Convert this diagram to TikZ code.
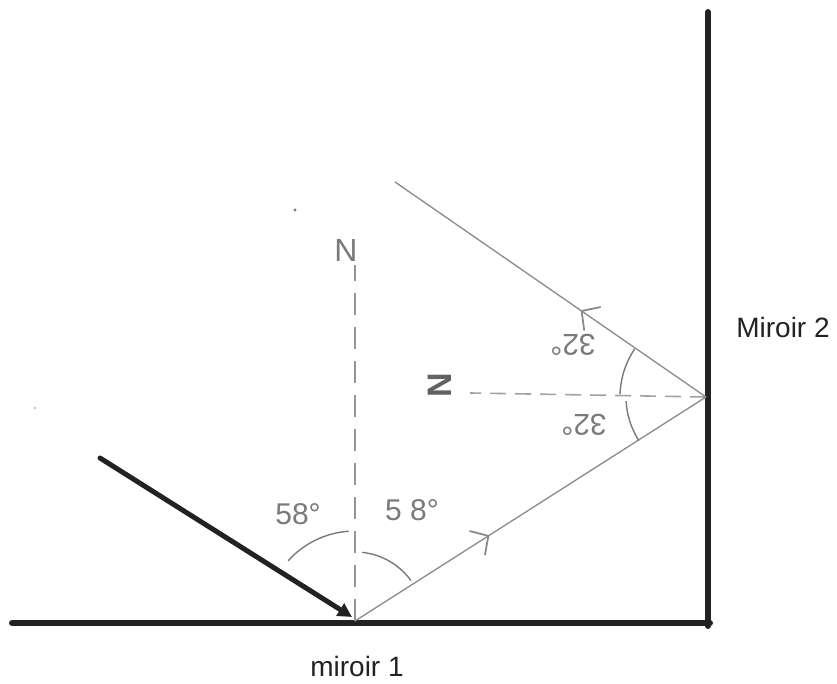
\documentclass[tikz,border=0pt]{standalone}
\usepackage{fontspec}
\setmainfont{Liberation Sans}
\usetikzlibrary{arrows.meta,calc}
\definecolor{ink}{HTML}{222222}
\definecolor{ray}{HTML}{8A8A8A}
\definecolor{hand}{HTML}{7A7A7A}
\tikzset{
  mirror/.style={line width=6pt, ink, line cap=round},
  incident/.style={line width=5pt, ink, line cap=round, -{Triangle[length=14pt,width=14pt]}},
  rayline/.style={line width=1.3pt, ray},
  normal/.style={line width=1.6pt, hand!80, dash pattern=on 22pt off 12pt},
  hnormal/.style={line width=1.6pt, hand!70, dash pattern=on 16pt off 9pt},
  anglearc/.style={line width=1.4pt, hand},
  handlabel/.style={text=hand, font=\fontsize{30}{30}\selectfont, inner sep=0pt},
  mirlabel/.style={text=ink, font=\fontsize{28}{28}\selectfont, inner sep=0pt},
  chevron/.style={ray, line width=1.8pt, line cap=round, line join=round}
}
\begin{document}
\begin{tikzpicture}[x=1pt,y=1pt]
\useasboundingbox (0,0) rectangle (837,683);
% key points
\coordinate (P) at (355,62);
\coordinate (Q) at (706,286);
\coordinate (M1a) at (12,60);
\coordinate (M1b) at (710,60);
\coordinate (M2a) at (708,671);
\coordinate (M2b) at (708,57);
\coordinate (S) at (100,225);
\coordinate (Pin) at (352,66);
\coordinate (R2) at (395,501);
\coordinate (Ntop) at (355,418);
\coordinate (Hleft) at (470,290);
% mirrors
\draw[mirror] (M1a) -- (M1b);
\draw[mirror] (M2a) -- (M2b);
% normals
\draw[normal] (P) -- (Ntop);
\draw[hnormal] (Q) -- (Hleft);
% rays
\draw[rayline] (P) -- (Q);
\draw[rayline] (Q) -- (R2);
\draw[incident] (S) -- (Pin);
% chevrons on the rays
\coordinate (c1) at ($(P)!0.38!(Q)$);
\coordinate (c2) at ($(Q)!0.40!(R2)$);
\begin{scope}[shift={(c1)}, rotate=32.6]
  \draw[chevron] (-13,14) -- (0,0) -- (-13,-14);
\end{scope}
\begin{scope}[shift={(c2)}, rotate=144.7]
  \draw[chevron] (-13,14) -- (0,0) -- (-13,-14);
\end{scope}
% angle arcs
\draw[anglearc] (P) ++(94:90) arc[start angle=94, end angle=138, radius=90];
\draw[anglearc] (P) ++(84:69) arc[start angle=84, end angle=36, radius=69];
\draw[anglearc] (Q) ++(146:86) arc[start angle=146, end angle=178, radius=86];
\draw[anglearc] (Q) ++(183:80) arc[start angle=183, end angle=213, radius=80];
% labels
\node[handlabel, font=\fontsize{32}{32}\selectfont] (Nv) at (346,433) {N};
\node[handlabel, rotate=90, text=hand!80!black, font=\fontsize{34}{34}\bfseries] (Nh) at (440,298) {N};
\node[handlabel] (a1) at (298,169) {58°};
\node[handlabel] (a2) at (412,173) {5 8°};
\node[handlabel, rotate=180] (a3) at (573,338) {32°};
\node[handlabel, rotate=180] (a4) at (584,258) {32°};
\node[mirlabel] (m2) at (783,356) {Miroir 2};
\node[mirlabel] (m1) at (357,17) {miroir 1};
% specks
\fill[hand] (295,473) circle (1.6pt);
\fill[hand!60] (35,275) circle (1.2pt);
\end{tikzpicture}
\end{document}
